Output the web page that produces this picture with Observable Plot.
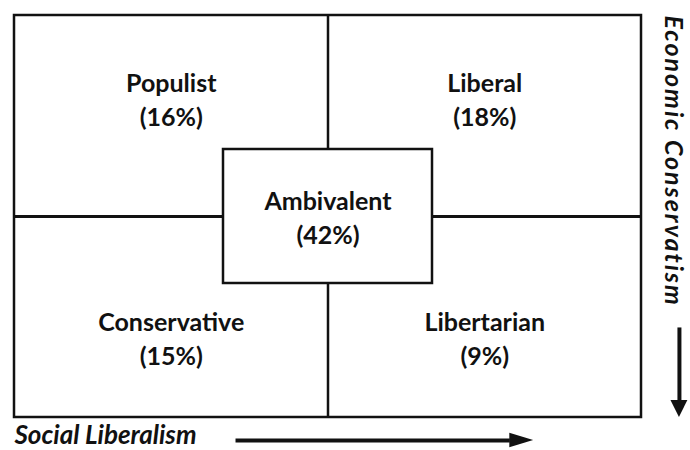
<!DOCTYPE html>
<html><head><meta charset="utf-8">
<script src="https://cdn.jsdelivr.net/npm/d3@7"></script>
<script src="https://cdn.jsdelivr.net/npm/@observablehq/plot@0.6"></script>
<style>
body{margin:0;background:#fff;}
#chart svg{display:block;overflow:visible;}
</style>
</head><body><div id="chart"></div>
<script>
// Segments of the typology
const categories = ["Populist", "Liberal", "Ambivalent", "Conservative", "Libertarian"];
const shares = [16, 18, 42, 15, 9];
// position of each segment on the two dimensions (-1 .. 1)
const socialScore = [-0.5, 0.5, 0, -0.5, 0.5];
const economicScore = [-0.59, -0.59, 0.0, 0.6, 0.6];
const axisTitles = ["Social Liberalism", "Economic Conservatism"];
const extent = [-1, 1];
const coreBound = [1 / 3];
// axis arrows: [start, head start, tip] along the axis and offset across it
const socialArrow = [-0.295, 0.58, 0.656];
const socialArrowAt = 1.114;
const socialTitleAt = 1.089;
const economicArrow = [0.552, 0.915, 1.0];
const economicArrowAt = 1.121;
const economicTitleAt = 1.095;

const cells = categories.map((c, i) => ({
  label: `${c}\n(${shares[i]}%)`, social: socialScore[i], economic: economicScore[i]
}));

const font = "Lato, 'Open Sans', sans-serif";
const ink = "#111";

const hHead = [
  {x: socialArrow[1], lo: socialArrowAt - 0.036, hi: socialArrowAt + 0.036},
  {x: socialArrow[2], lo: socialArrowAt, hi: socialArrowAt}
];
const vHead = [
  {y: economicArrow[1], lo: economicArrowAt - 0.027, hi: economicArrowAt + 0.027},
  {y: economicArrow[2], lo: economicArrowAt, hi: economicArrowAt}
];

const plot = Plot.plot({
  width: 690, height: 450, margin: 0,
  style: {background: "#fff", overflow: "visible"},
  x: {domain: extent, range: [14, 641], axis: null},
  y: {domain: extent, range: [15, 417], axis: null},
  marks: [
    Plot.ruleX([0], {x: d => d, y1: () => extent[0], y2: () => extent[1], stroke: ink, strokeWidth: 2.5}),
    Plot.ruleY([0], {y: d => d, x1: () => extent[0], x2: () => extent[1], stroke: ink, strokeWidth: 3}),
    Plot.rect(coreBound, {x1: d => -d, x2: d => d, y1: d => -d, y2: d => d, fill: "white", stroke: ink, strokeWidth: 2.5}),
    Plot.rect([extent[1]], {x1: d => -d, x2: d => d, y1: d => -d, y2: d => d, fill: "none", stroke: ink, strokeWidth: 2.5}),
    Plot.text(cells, {x: "social", y: "economic", text: "label", fontSize: 25, fontWeight: "bold",
      lineHeight: 1.36, fontFamily: font, fill: ink}),
    // social liberalism axis
    Plot.text([axisTitles[0]], {x: () => extent[0], y: () => socialTitleAt, text: d => d, textAnchor: "start",
      fontSize: 26, fontWeight: "bold", fontStyle: "italic", fontFamily: font, fill: ink}),
    Plot.link([socialArrow], {x1: d => d[0], x2: d => d[1], y1: () => socialArrowAt, y2: () => socialArrowAt,
      stroke: ink, strokeWidth: 4}),
    Plot.areaY(hHead, {x: "x", y1: "lo", y2: "hi", fill: ink}),
    // economic conservatism axis
    Plot.text([axisTitles[1]], {x: () => economicTitleAt, y: () => extent[0], text: d => d, textAnchor: "start",
      rotate: 90, fontSize: 25, fontWeight: "bold", fontStyle: "italic", fontFamily: font, fill: ink, dx: 2}),
    Plot.link([economicArrow], {y1: d => d[0], y2: d => d[1], x1: () => economicArrowAt, x2: () => economicArrowAt,
      stroke: ink, strokeWidth: 4}),
    Plot.areaX(vHead, {y: "y", x1: "lo", x2: "hi", fill: ink})
  ]
});
d3.select(plot).selectAll("text")
  .filter(function () { return this.textContent === axisTitles[1]; })
  .style("letter-spacing", "2px");
document.getElementById("chart").appendChild(plot);
</script>
</body></html>
